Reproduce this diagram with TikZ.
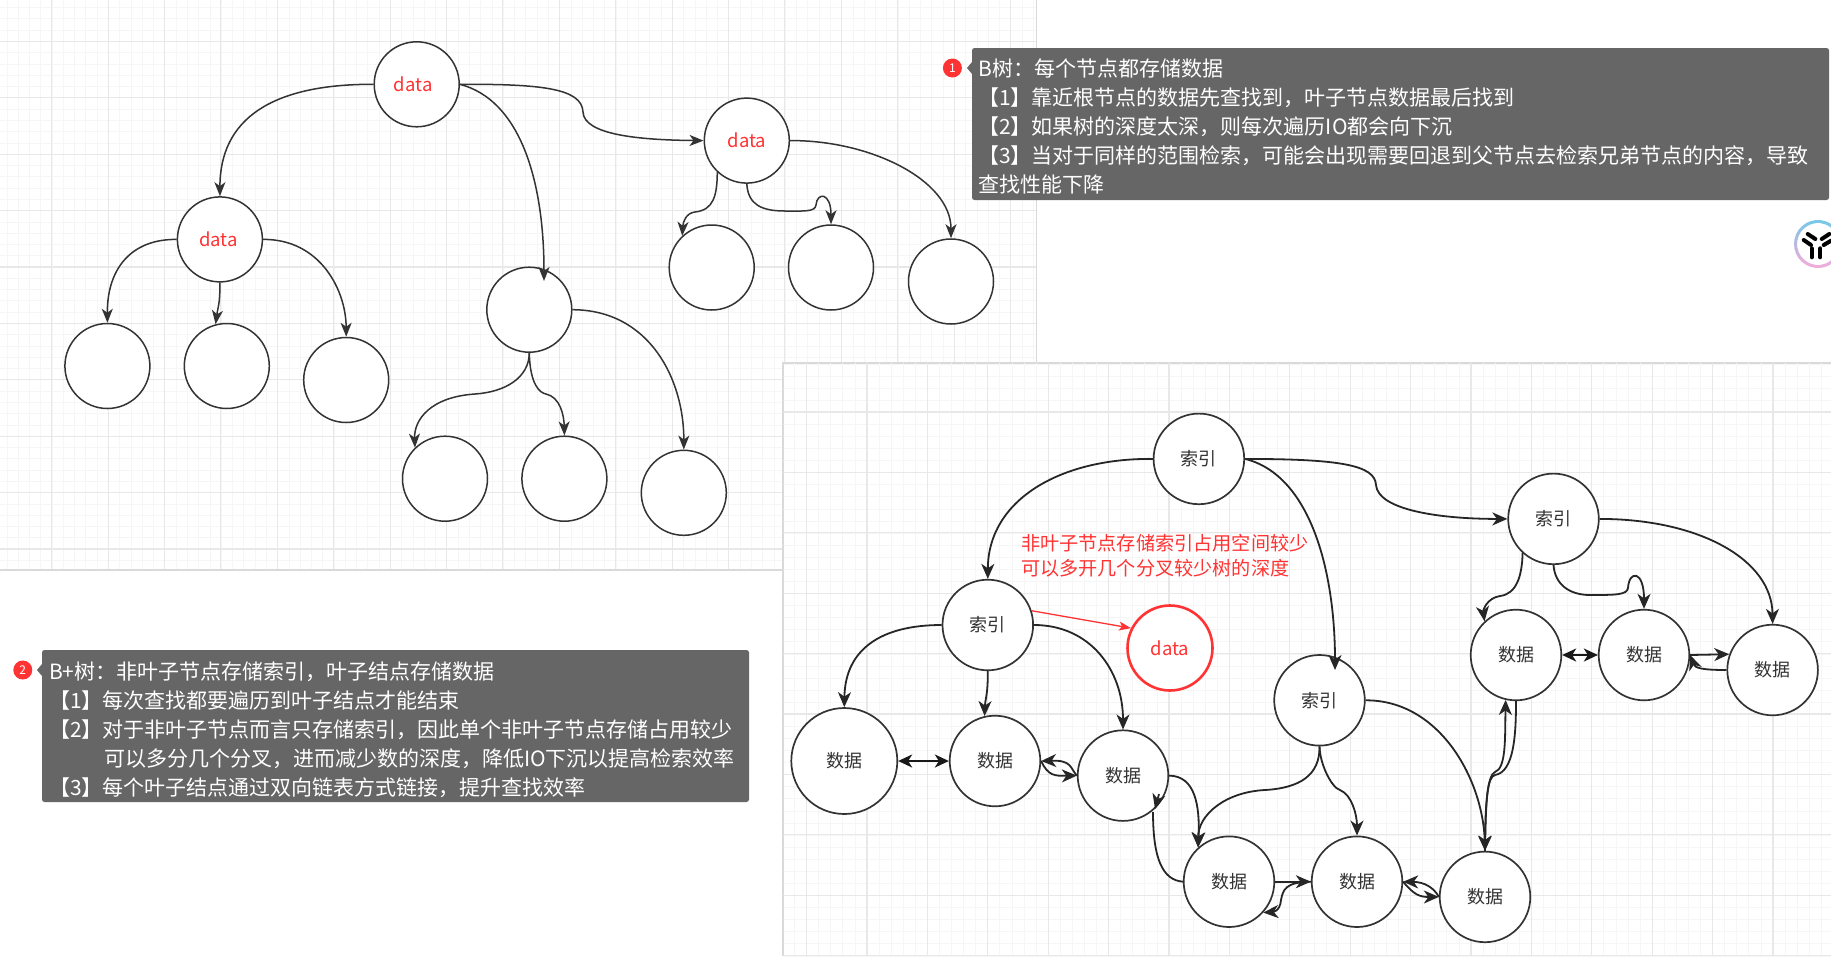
\documentclass[tikz,border=0pt]{standalone}
\usepackage{fontspec}
\setmainfont{Noto Sans CJK SC}
\usetikzlibrary{arrows.meta}
\definecolor{noteg}{HTML}{666666}
\definecolor{redt}{HTML}{FF3333}
\definecolor{ink}{HTML}{333333}
\definecolor{ringc}{HTML}{78C8E8}
\definecolor{ringp}{HTML}{F0ACDC}
\tikzset{
  x=1pt,y=-1pt,
  upnode/.style={circle,draw=ink,line width=1.5pt,fill=white,minimum size=85pt,inner sep=0pt,font=\fontsize{18.5}{20}\selectfont},
  lonode/.style={circle,draw=ink,line width=1.7pt,fill=white,minimum size=90.6pt,inner sep=0pt,font=\fontsize{18}{20}\selectfont,text=ink},
  bignode/.style={lonode,minimum size=106pt},
  reddata/.style={circle,draw=redt,line width=2.6pt,fill=white,minimum size=85pt,inner sep=0pt,text=redt,font=\fontsize{18.5}{20}\selectfont},
  conn/.style={draw=ink,line width=1.5pt,-{Stealth[length=14pt,width=11pt,inset=4pt]}},
  lconn/.style={draw=black!85,line width=1.8pt,-{Stealth[length=15pt,width=13pt,inset=4.5pt]}},
  plainconn/.style={draw=black!85,line width=1.8pt},
  both/.style={draw=black!90,line width=2.2pt,{Stealth[length=14pt,width=13pt,inset=4pt]}-{Stealth[length=14pt,width=13pt,inset=4pt]}},
  redconn/.style={draw=redt,line width=1.3pt,-{Stealth[length=12pt,width=9pt,inset=3pt]}},
  note/.style={text=white,align=left,anchor=north west,inner sep=0pt,font=\fontsize{21}{29}\selectfont},
  notebox/.style={fill=noteg,rounded corners=2.5pt},
  badge/.style={circle,fill=redt,text=white,inner sep=0pt,minimum size=19pt,font=\fontsize{12}{12}\selectfont},
  minorg/.style={draw=black!3.5,line width=0.8pt},
  majorg/.style={draw=black!9,line width=1.1pt},
  redlabel/.style={text=redt,anchor=west,inner sep=0pt,font=\fontsize{19.15}{25.5}\selectfont,align=left},
}
\begin{document}
\begin{tikzpicture}
\useasboundingbox (0,0) rectangle (1831,956);
\clip (0,0) rectangle (1831,956);
\fill[white] (0,0) rectangle (1831,956);
% upper panel
\fill[black!15] (0,0) rectangle (1037,571);
\fill[white] (0,0) rectangle (1036,569);
\begin{scope}
\clip (0,0) rectangle (1036,569);
\foreach \i in {0,...,92} {\draw[minorg] ({6.9+11.28*\i},0) -- ({6.9+11.28*\i},569);}
\foreach \i in {0,...,50} {\draw[minorg] (0,{7.6+11.28*\i}) -- (1036,{7.6+11.28*\i});}
\foreach \i in {0,...,18} {\draw[majorg] ({51.7+56.4*\i},0) -- ({51.7+56.4*\i},569);}
\foreach \i in {0,...,9} {\draw[majorg] (0,{41.4+56.4*\i}) -- (1036,{41.4+56.4*\i});}
\end{scope}
% lower panel
\fill[black!15] (782,362) rectangle (1831,956);
\fill[white] (783.5,363.5) rectangle (1831,956);
\begin{scope}
\clip (783.5,363.5) rectangle (1831,956);
\foreach \i in {0,...,87} {\draw[minorg] ({794.5+12.08*\i},363) -- ({794.5+12.08*\i},956);}
\foreach \i in {0,...,49} {\draw[minorg] (783,{364+12.08*\i}) -- (1831,{364+12.08*\i});}
\foreach \i in {0,...,17} {\draw[majorg] ({806.6+60.4*\i},363) -- ({806.6+60.4*\i},956);}
\foreach \i in {0,...,9} {\draw[majorg] (783,{412+60.4*\i}) -- (1831,{412+60.4*\i});}
\end{scope}

% upper tree nodes
\node[upnode,text=redt] (uroot) at (416.7,84.3) {data\hspace*{7pt}};
\node[upnode,text=redt] (uR) at (746.8,140.6) {data};
\node[upnode,text=redt] (uL) at (219.9,239.4) {data\hspace*{3pt}};
\node[upnode] (uM) at (529.3,309.7) {};
\node[upnode] (uL1) at (107.4,366) {};
\node[upnode] (uL2) at (226.8,366) {};
\node[upnode] (uL3) at (346.2,380) {};
\node[upnode] (uM1) at (445,478.7) {};
\node[upnode] (uM2) at (564.4,478.7) {};
\node[upnode] (uM3) at (683.8,492.8) {};
\node[upnode] (uR1) at (711.7,267.5) {};
\node[upnode] (uR2) at (831,267.5) {};
\node[upnode] (uR3) at (951,281.5) {};
\coordinate (uMtip) at (544,281);

% upper tree connectors
\draw[conn] (uroot.west) .. controls (270,84) and (220,120) .. (uL.north);
\draw[conn] (uroot.east) .. controls (540,84) and (582,88) .. (583,112) .. controls (584,135) and (640,140) .. (uR.west);
\draw[conn] (uroot.east) .. controls (520,100) and (544,180) .. (uMtip);
\draw[conn] (uL.west) .. controls (130,239) and (107,270) .. (uL1.north);
\draw[conn] (uL.south) .. controls (220,305) and (218,306) .. (uL2.105);
\draw[conn] (uL.east) .. controls (320,239) and (346,290) .. (uL3.north);
\draw[conn] (uR.227) .. controls (717,195) and (714,210) .. (695,212) .. controls (686,213) and (683,222) .. (uR1.133);
\draw[conn] (uR.south) .. controls (748,205) and (762,211) .. (785,211) .. controls (805,211) and (815,212) .. (816,205) .. controls (817,192) and (831,192) .. (uR2.north);
\draw[conn] (uR.east) .. controls (870,140) and (951,180) .. (uR3.north);
\draw[conn] (uM.south) .. controls (529,378) and (505,392) .. (475,394) .. controls (430,397) and (414,420) .. (uM1.134);
\draw[conn] (uM.south) .. controls (530,385) and (540,393) .. (546,394) .. controls (560,397) and (564,415) .. (uM2.north);
\draw[conn] (uM.east) .. controls (650,310) and (684,380) .. (uM3.north);

% lower tree nodes
\node[lonode] (iroot) at (1198.9,458.9) {索引};
\node[lonode] (iR) at (1553.5,518.9) {索引};
\node[lonode] (iL) at (987.8,625) {索引};
\node[lonode] (iM) at (1319.5,700.3) {索引};
\node[bignode] (big) at (844.3,761) {数据};
\node[lonode] (d2) at (995,761) {数据};
\node[lonode] (d3) at (1123,775.6) {数据};
\node[lonode] (dM1) at (1229,881.7) {数据};
\node[lonode] (dM2) at (1357,881.7) {数据};
\node[lonode] (dM3) at (1485,896.9) {数据};
\node[lonode] (dR1) at (1516,655) {数据};
\node[lonode] (dR2) at (1644,655) {数据};
\node[lonode] (dR3) at (1772.6,670) {数据};
\node[reddata] (dataR) at (1170,648) {data};
\coordinate (iMtip) at (1335,670);
\coordinate (hookA) at (1153,812);
\coordinate (hookB) at (1159,794);
\coordinate (hookC) at (1155,809);

% lower tree connectors
\draw[lconn] (iroot.west) .. controls (1060,458) and (988,500) .. (iL.north);
\draw[lconn] (iroot.east) .. controls (1340,459) and (1375,465) .. (1376,485) .. controls (1378,510) and (1440,519) .. (iR.west);
\draw[lconn] (iroot.east) .. controls (1310,475) and (1335,570) .. (iMtip);
\draw[lconn] (iR.east) .. controls (1700,519) and (1772,560) .. (dR3.north);
\draw[lconn] (iR.228) .. controls (1522,575) and (1517,594) .. (1500,596) .. controls (1487,598) and (1483,610) .. (dR1.133);
\draw[lconn] (iR.south) .. controls (1555,585) and (1570,595) .. (1590,595) .. controls (1615,595) and (1627,595) .. (1628,588) .. controls (1629,570) and (1644,570) .. (dR2.north);
\draw[both] (dR1.east) -- (dR2.west);
\draw[lconn] (dR2.east) -- (dR3.160);
\draw[lconn] (dR3.west) .. controls (1702,670) and (1695,668) .. (dR2.east);
\draw[lconn] (iL.west) .. controls (880,625) and (845,650) .. (big.north);
\draw[lconn] (iL.south) .. controls (988,695) and (985,700) .. (d2.103);
\draw[lconn] (iL.east) .. controls (1090,625) and (1123,670) .. (d3.north);
\draw[redconn] (iL.18) -- (dataR.153);
\draw[both] (big.east) -- (d2.west);
\draw[lconn] (d2.east) .. controls (1048,776) and (1055,776) .. (d3.west);
\draw[lconn] (d3.west) .. controls (1070,768) and (1072,760) .. (d2.east);
\draw[lconn] (d3.east) .. controls (1195,776) and (1200,805) .. (dM1.132);
\draw[lconn] (iM.south) .. controls (1320,775) and (1300,788) .. (1265,790) .. controls (1225,792) and (1198,815) .. (dM1.132);
\draw[plainconn] (dM1.west) .. controls (1163,880) and (1153,860) .. (hookA);
\draw[lconn] (hookB) -- (hookC);
\draw[lconn] (iM.south) .. controls (1320,765) and (1332,788) .. (1340,790) .. controls (1352,795) and (1357,815) .. (dM2.north);
\draw[lconn] (dM1.east) -- (dM2.west);
\draw[lconn] (dM2.west) .. controls (1285,882) and (1283,890) .. (1281,900) .. controls (1280,912) and (1272,912) .. (dM1.318);
\draw[lconn] (dM2.east) .. controls (1414,895) and (1420,897) .. (dM3.west);
\draw[lconn] (dM3.west) .. controls (1434,888) and (1425,882) .. (dM2.east);
\draw[lconn] (iM.east) .. controls (1440,700) and (1483,780) .. (dM3.north);
\draw[lconn] (dR1.south) .. controls (1516,735) and (1514,772) .. (1495,775) .. controls (1487,777) and (1486,800) .. (dM3.north);
\draw[lconn] (dM3.north) .. controls (1485,800) and (1488,775) .. (1495,772) .. controls (1506,768) and (1505,740) .. (dR1.257);

% red label
\node[redlabel] (rednote) at (1021,555.5) {非叶子节点存储索引占用空间较少\\可以多开几个分叉较少树的深度};

% note 1
\fill[noteg] (967,68) -- (972,62) -- (972,74) -- cycle;
\node[badge] (b1) at (952.4,68) {1};
\fill[notebox] (972,48) rectangle (1829,200);
\node[note] (n1) at (978,59) {B树：每个节点都存储数据\\【1】靠近根节点的数据先查找到，叶子节点数据最后找到\\【2】如果树的深度太深，则每次遍历IO都会向下沉\\【3】当对于同样的范围检索，可能会出现需要回退到父节点去检索兄弟节点的内容，导致\\查找性能下降};

% note 2
\fill[noteg] (37,670) -- (42,664) -- (42,676) -- cycle;
\node[badge] (b2) at (22.8,670) {2};
\fill[notebox] (42,650) rectangle (749,802);
\node[note] (n2) at (49,662) {B+树：非叶子节点存储索引，叶子结点存储数据\\【1】每次查找都要遍历到叶子结点才能结束\\【2】对于非叶子节点而言只存储索引，因此单个非叶子节点存储占用较少\\\hspace*{55pt}可以多分几个分叉，进而减少数的深度，降低IO下沉以提高检索效率\\【3】每个叶子结点通过双向链表方式链接，提升查找效率};

% icon
\fill[white] (1818,244) circle[radius=24];
\foreach \a in {0,12,...,348} {
  \pgfmathtruncatemacro\m{50+50*sin(\a)}
  \draw[line width=3pt,line cap=round,draw=ringp!\m!ringc] ({1818+22.5*cos(\a)},{244+22.5*sin(\a)}) -- ({1818+22.5*cos(\a+12)},{244+22.5*sin(\a+12)});
}
\foreach \xa/\ya/\xb/\yb in {1807.7/234/1815.3/239,1829.3/234/1821.7/239,1803.7/240/1811/245,1831/240.7/1823.7/245,1811.7/248.3/1811.7/257.3,1820.3/248.3/1820.3/257.3} {
  \draw[line width=4pt,draw=black,line cap=round] (\xa,\ya) -- (\xb,\yb);
}
\end{tikzpicture}
\end{document}
